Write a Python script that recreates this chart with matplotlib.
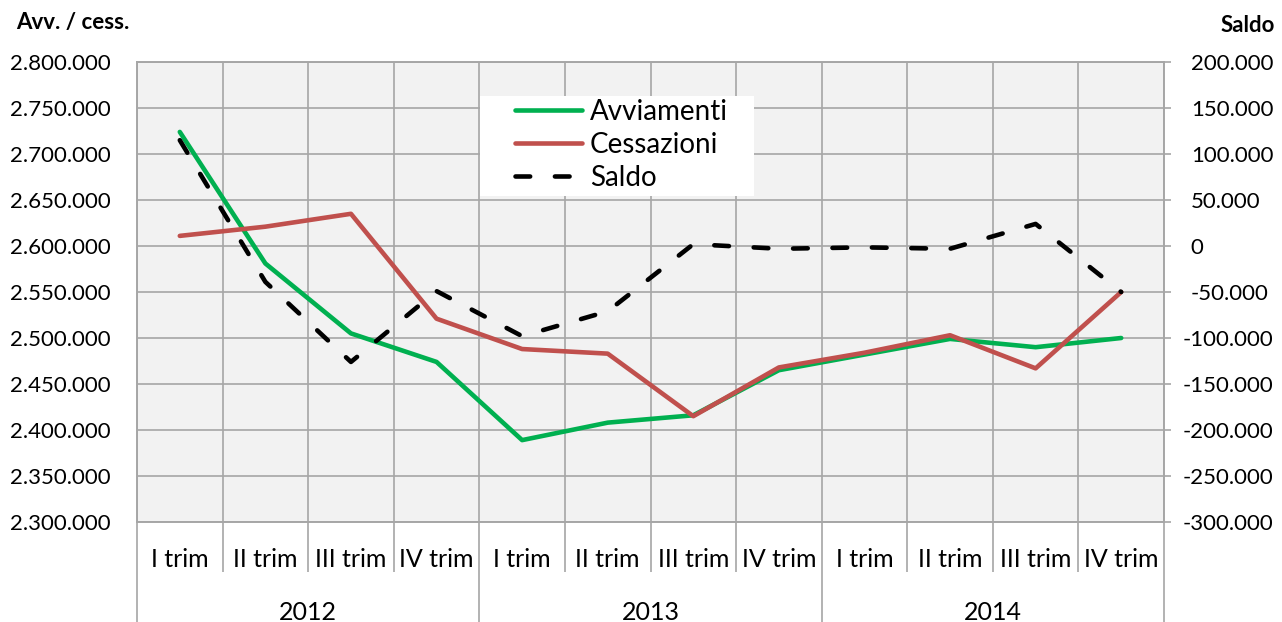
import numpy as np
import matplotlib
matplotlib.use("Agg")
import matplotlib.pyplot as plt
from matplotlib.ticker import FixedLocator, FuncFormatter
from matplotlib.lines import Line2D
from matplotlib.patches import Rectangle
from matplotlib.transforms import ScaledTranslation

plt.rcParams['font.family'] = ['Lato', 'DejaVu Sans']

# --- data -------------------------------------------------------------
years = ['2012', '2013', '2014']
quarters = ['I trim', 'II trim', 'III trim', 'IV trim']
avviamenti = [2724000, 2581000, 2505000, 2474000,
              2389000, 2408000, 2416000, 2465000,
              2482000, 2499000, 2490000, 2500000]
cessazioni = [2611000, 2621000, 2635000, 2521000,
              2488000, 2483000, 2415000, 2468000,
              2484000, 2503000, 2467000, 2550000]
saldo = [115000, -39000, -126000, -49000,
         -98000, -71000, 2000, -3000,
         -1500, -3000, 24000, -50000]
left_ticks = list(range(2300000, 2800001, 50000))
right_ticks = list(range(-300000, 200001, 50000))

# --- styling ----------------------------------------------------------
GRID = '#a6a6a6'
GREEN = '#00b050'
RED = '#c0504d'
VAL_FS = 16
CAT_FS = 18
W, H = 1282, 622
AX_W, AX_H = 1027, 460

fig = plt.figure(figsize=(W / 100, H / 100), dpi=100)
ax = fig.add_axes([137 / W, 1 - 522 / H, AX_W / W, AX_H / H])
ax.set_facecolor('#f2f2f2')

n = len(years) * len(quarters)
x = np.arange(n)
labels = quarters * len(years)

ax.plot(x, avviamenti, color=GREEN, lw=3.3, solid_capstyle='round',
        solid_joinstyle='round', zorder=3)
ax.plot(x, cessazioni, color=RED, lw=3.3, solid_capstyle='round',
        solid_joinstyle='round', zorder=3)

ax.set_xlim(-0.5, n - 0.5)
ax.set_ylim(left_ticks[0], left_ticks[-1])


def it_fmt(v, pos=None):
    return f'{v:,.0f}'.replace(',', '.')


ax.yaxis.set_major_locator(FixedLocator(left_ticks))
ax.yaxis.set_major_formatter(FuncFormatter(it_fmt))
ax.tick_params(axis='y', length=0, pad=19, labelsize=VAL_FS, colors='#000000')

ax.xaxis.set_major_locator(FixedLocator(x))
ax.set_xticklabels(labels)
ax.xaxis.set_minor_locator(FixedLocator(np.arange(-0.5, n, 1.0)))
ax.tick_params(axis='x', which='major', length=0, pad=18.5, labelsize=CAT_FS)
ax.tick_params(axis='x', which='minor', length=0)

ax.grid(True, axis='y', which='major', color=GRID, lw=1.2)
ax.grid(True, axis='x', which='minor', color=GRID, lw=1.2)
ax.set_axisbelow(True)
for side in ('top', 'bottom', 'left', 'right'):
    ax.spines[side].set_color(GRID)
    ax.spines[side].set_linewidth(1.2)

# category separators below the plot area
xt = ax.get_xaxis_transform()
q_bounds = [b for b in np.arange(0.5, n - 1, 1.0) if (b + 0.5) % 4 != 0]
ax.vlines(q_bounds, -50 / AX_H, 0, transform=xt, color=GRID, lw=1.2, clip_on=False)
y_bounds = [-0.5] + [4 * k - 0.5 for k in range(1, len(years))] + [n - 0.5]
ax.vlines(y_bounds, -100 / AX_H, 0, transform=xt, color=GRID, lw=1.2, clip_on=False)
for k, yr in enumerate(years):
    ax.text(4 * k + 1.5, -90 / AX_H, yr, transform=xt, ha='center', va='center',
            fontsize=CAT_FS)

# secondary axis for the balance
ax2 = ax.twinx()
ax2.plot(x, saldo, color='black', lw=3.3, dashes=(3.2, 5.4),
         dash_capstyle='round', dash_joinstyle='round', zorder=3)
ax2.set_ylim(right_ticks[0], right_ticks[-1])
ax2.yaxis.set_major_locator(FixedLocator(right_ticks))
ax2.yaxis.set_major_formatter(FuncFormatter(it_fmt))
ax2.tick_params(axis='y', length=5, width=1.2, color=GRID, pad=8.5,
                labelsize=VAL_FS, labelcolor='#000000')
for side in ('top', 'bottom', 'left', 'right'):
    ax2.spines[side].set_color(GRID)
    ax2.spines[side].set_linewidth(1.2)
# long negative labels are pulled back so they stay inside the figure
for lbl, v in zip(ax2.yaxis.get_ticklabels(), right_ticks):
    lbl.set_horizontalalignment('left')
    if v > -100000:
        lbl.set_transform(lbl.get_transform()
                          + ScaledTranslation(0.08, 0, fig.dpi_scale_trans))

# legend on a white panel
panel = Rectangle(((480 - 137) / AX_W, (522 - 196) / AX_H),
                  (754 - 480) / AX_W, (196 - 96) / AX_H,
                  transform=ax2.transAxes, facecolor='white', edgecolor='none',
                  zorder=9)
ax2.add_patch(panel)
handles = [Line2D([], [], color=GREEN, lw=3.3, solid_capstyle='round'),
           Line2D([], [], color=RED, lw=3.3, solid_capstyle='round'),
           Line2D([], [], color='black', lw=3.3, dashes=(3.2, 5.4),
                  dash_capstyle='round')]
leg = ax2.legend(handles, ['Avviamenti', 'Cessazioni', 'Saldo'],
                 loc='center left',
                 bbox_to_anchor=((515 - 137) / AX_W, (522 - 145) / AX_H),
                 borderaxespad=0, borderpad=0, frameon=False, fontsize=20,
                 handlelength=2.4, handletextpad=0.3, labelspacing=0.25)
leg.set_zorder(10)

fig.text(16 / W, 1 - 22 / H, 'Avv. / cess.', weight='bold', fontsize=16,
         ha='left', va='center')
fig.text(1275 / W, 1 - 25 / H, 'Saldo', weight='bold', fontsize=16,
         ha='right', va='center')

fig.savefig('out.png', dpi=100, facecolor='white')
